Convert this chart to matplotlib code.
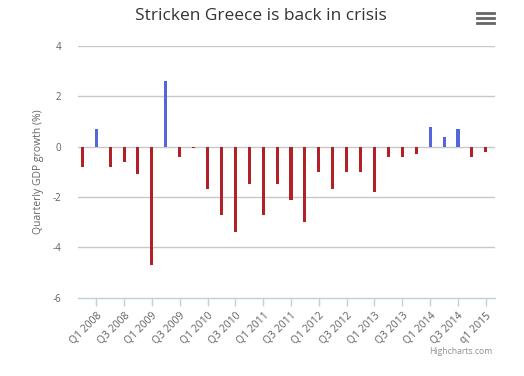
import matplotlib
matplotlib.use("Agg")
import matplotlib.pyplot as plt
from matplotlib.lines import Line2D
import numpy as np

# Data
quarters = ["Q4 2007",
            "Q1 2008", "Q2 2008", "Q3 2008", "Q4 2008",
            "Q1 2009", "Q2 2009", "Q3 2009", "Q4 2009",
            "Q1 2010", "Q2 2010", "Q3 2010", "Q4 2010",
            "Q1 2011", "Q2 2011", "Q3 2011", "Q4 2011",
            "Q1 2012", "Q2 2012", "Q3 2012", "Q4 2012",
            "Q1 2013", "Q2 2013", "Q3 2013", "Q4 2013",
            "Q1 2014", "Q2 2014", "Q3 2014", "Q4 2014",
            "Q1 2015"]
growth = [-0.8,
          0.7, -0.8, -0.6, -1.1,
          -4.7, 2.6, -0.4, -0.05,
          -1.7, -2.7, -3.4, -1.5,
          -2.7, -1.5, -2.1, -3.0,
          -1.0, -1.7, -1.0, -1.0,
          -1.8, -0.4, -0.4, -0.3,
          0.8, 0.4, 0.7, -0.4,
          -0.2]
tick_labels = ["Q1 2008", "Q3 2008", "Q1 2009", "Q3 2009", "Q1 2010",
               "Q3 2010", "Q1 2011", "Q3 2011", "Q1 2012", "Q3 2012",
               "Q1 2013", "Q3 2013", "Q1 2014", "Q3 2014", "q1 2015"]
y_ticks = [-6, -4, -2, 0, 2, 4]

plt.rcParams['font.family'] = ['Open Sans', 'DejaVu Sans']

W, H = 524, 376
fig = plt.figure(figsize=(W / 100, H / 100), dpi=100)
left, right, top, bottom = 77.7, 495, 46, 297.7
ax = fig.add_axes([left / W, 1 - bottom / H, (right - left) / W, (bottom - top) / H])

x = np.arange(len(growth))
colors = ['#5566dd' if v >= 0 else '#b22028' for v in growth]
ax.bar(x, growth, width=0.22, color=colors, zorder=3, linewidth=0)

ax.set_xlim(-0.33, len(growth) - 1 + 0.66)
ax.set_ylim(-6, 4)

# grid
for yv in y_ticks[1:]:
    ax.axhline(yv, color='#c8c8c8', linewidth=1, zorder=1)
for s in ['top', 'right', 'left']:
    ax.spines[s].set_visible(False)
ax.spines['bottom'].set_color('#c0d0e0')
ax.spines['bottom'].set_linewidth(1)

ax.set_yticks(y_ticks)
ax.set_yticklabels([str(v) for v in y_ticks])
ax.tick_params(axis='y', length=0, pad=12, labelsize=7, labelcolor='#606060')

tick_pos = [quarters.index("Q" + t[1:]) for t in tick_labels]
ax.set_xticks(tick_pos)
ax.set_xticklabels(tick_labels, rotation=45, ha='right', va='top', rotation_mode='anchor')
ax.tick_params(axis='x', length=6, width=1, color='#c0d0e0', pad=3, labelsize=7.5, labelcolor='#606060')

ax.set_ylabel('Quarterly GDP growth (%)', fontsize=7.5, color='#666666', labelpad=6)

fig.text(261 / W, 1 - 16 / H, 'Stricken Greece is back in crisis', ha='center', va='center',
         fontsize=12.5, color='#333333')
fig.text(492 / W, 1 - 351 / H, 'Highcharts.com', ha='right', va='center',
         fontsize=6.2, color='#909090')

# menu icon
for yy in [13.3, 18.3, 23.3]:
    fig.add_artist(Line2D([477.3 / W, 494 / W], [1 - yy / H, 1 - yy / H],
                          color='#666666', linewidth=2, transform=fig.transFigure))

fig.savefig('out.png', dpi=100)
